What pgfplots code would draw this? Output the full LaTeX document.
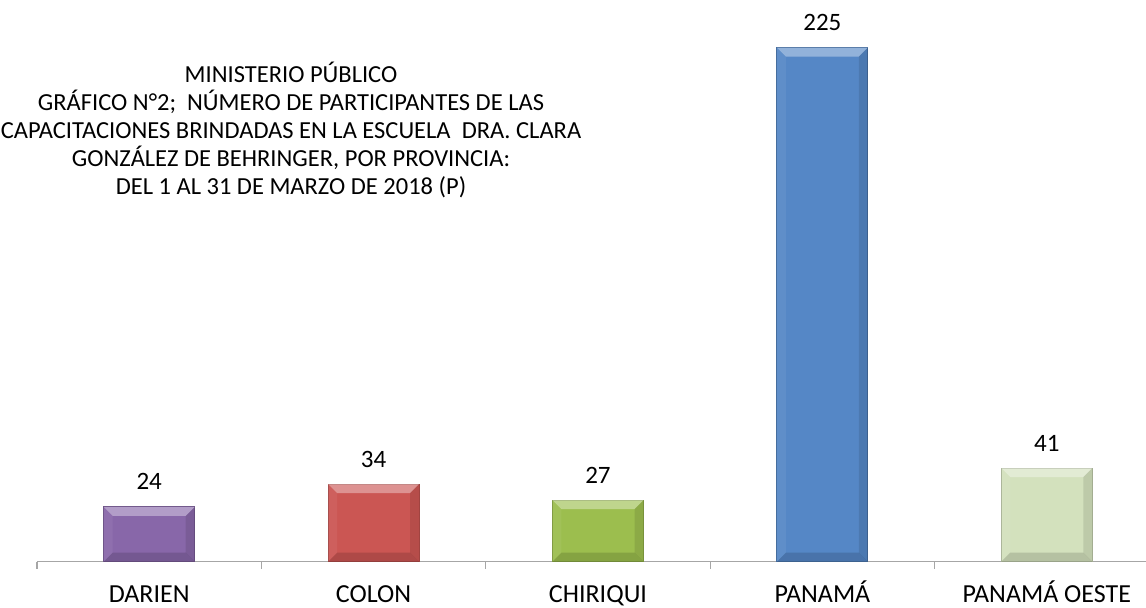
\documentclass[border=0pt]{standalone}
\usepackage{fontspec}
\setmainfont{Carlito}
\usepackage{pgfplots}
\pgfplotsset{compat=1.18}

\definecolor{cDarien}{HTML}{8867A9}
\definecolor{cColon}{HTML}{CB5653}
\definecolor{cChiriqui}{HTML}{9CBE4E}
\definecolor{cPanama}{HTML}{5587C6}
\definecolor{cOeste}{HTML}{D3E1BD}
\definecolor{axisgray}{HTML}{A6A6A6}

% bar half width and bevel size, in axis units (224.4bp per category, 2.285bp per unit)
\def\hw{0.2028}
\def\bx{0.0401}
\def\by{3.94}

% one bar plus its four bevel faces
\newcommand\bevbar[3]{%
  \pgfmathsetmacro\xl{#1-\hw}\pgfmathsetmacro\xr{#1+\hw}%
  \pgfmathsetmacro\xli{#1-\hw+\bx}\pgfmathsetmacro\xri{#1+\hw-\bx}%
  \pgfmathsetmacro\yti{#2-\by}%
  \addplot[ybar, bar width=91bp, bar shift=0pt, fill=#3, draw=#3!80!black, line width=0.8bp, nodes near coords] coordinates {(#1,#2)};
  \addplot[sharp plot, draw=none, fill=white, fill opacity=.36, forget plot]
    coordinates {(\xl,#2) (\xr,#2) (\xri,\yti) (\xli,\yti)} -- cycle;
  \addplot[sharp plot, draw=none, fill=black, fill opacity=.10, forget plot]
    coordinates {(\xr,#2) (\xr,0) (\xri,\by) (\xri,\yti)} -- cycle;
  \addplot[sharp plot, draw=none, fill=white, fill opacity=.06, forget plot]
    coordinates {(\xl,#2) (\xl,0) (\xli,\by) (\xli,\yti)} -- cycle;
  \addplot[sharp plot, draw=none, fill=black, fill opacity=.14, forget plot]
    coordinates {(\xl,0) (\xr,0) (\xri,\by) (\xli,\by)} -- cycle;
}

\begin{document}
\begin{tikzpicture}
\useasboundingbox (0,0) rectangle (1146bp,608bp);

\begin{axis}[
    at={(37bp,46.3bp)}, anchor=south west,
    scale only axis,
    width=1122bp, height=548.4bp,
    xmin=-0.5, xmax=4.5,
    ymin=0, ymax=240,
    axis x line=bottom, axis y line=none,
    axis line style={axisgray, line width=1.2bp, -},
    xtick={0,1,2,3,4},
    xticklabels={DARIEN, COLON, CHIRIQUI, PANAMÁ, PANAMÁ OESTE},
    major tick length=0pt,
    minor xtick={-0.5,0.5,1.5,2.5,3.5,4.5},
    minor tick length=7bp,
    tick align=outside,
    minor tick style={axisgray, line width=1.2bp},
    xticklabel style={font=\fontsize{26bp}{30bp}\selectfont, anchor=base, yshift=-41bp},
    /pgf/number format/assume math mode=true,
    every node near coord/.append style={font=\fontsize{25bp}{30bp}\selectfont, anchor=base, yshift=17bp, black},
    clip=false,
]
\bevbar{0}{24}{cDarien}
\bevbar{1}{34}{cColon}
\bevbar{2}{27}{cChiriqui}
\bevbar{3}{225}{cPanama}
\bevbar{4}{41}{cOeste}
\end{axis}

\node[align=center, font=\fontsize{24.5bp}{28.2bp}\selectfont, text=black]
  at (291bp,478bp) {MINISTERIO PÚBLICO\\
  GRÁFICO N°2;\ \ NÚMERO DE PARTICIPANTES DE LAS\\
  CAPACITACIONES BRINDADAS EN LA ESCUELA\ \ DRA. CLARA\\
  GONZÁLEZ DE BEHRINGER, POR PROVINCIA:\\
  DEL 1 AL 31 DE MARZO DE 2018 (P)};
\end{tikzpicture}
\end{document}
